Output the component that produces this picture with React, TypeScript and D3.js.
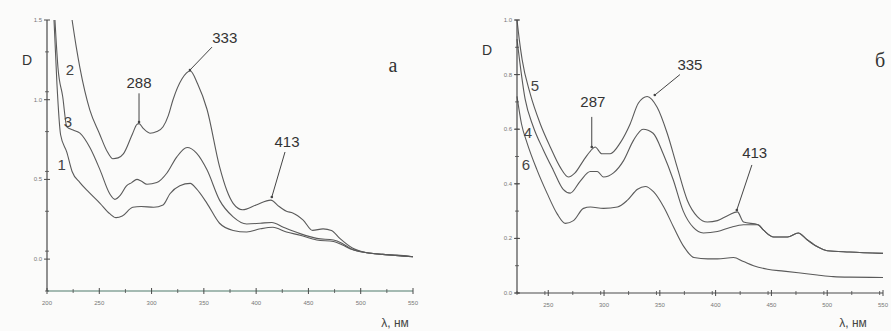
import React from 'react';
import * as d3 from 'd3';

type Pt = [number, number];

// panel a — wavelength (nm), optical density D
const curveA1: Pt[] = [[206.7,1.5],[209.5,1.1],[213,0.78],[219,0.67],[224,0.55],[231.5,0.48],[240,0.42],[250.7,0.35],[260,0.285],[266,0.26],[272,0.27],[282,0.325],[290,0.33],[302,0.325],[311,0.34],[317.6,0.41],[327,0.46],[337,0.475],[343,0.44],[353,0.35],[365,0.225],[378,0.18],[391,0.17],[404,0.19],[416,0.2],[429,0.17],[442,0.15],[458,0.12],[474,0.11],[482,0.09],[492,0.06],[506,0.04],[521,0.03],[550,0.015]];
const curveA2: Pt[] = [[224,1.5],[228,1.33],[231.5,1.2],[241,0.935],[250,0.79],[258,0.67],[263,0.63],[268,0.635],[273,0.66],[282,0.79],[286,0.845],[288,0.85],[292,0.82],[298.5,0.79],[305,0.8],[311,0.83],[316,0.9],[320.5,1.0],[329,1.13],[337,1.18],[344,1.1],[353,0.94],[365,0.58],[372,0.43],[378,0.35],[387,0.31],[400,0.34],[414,0.37],[422,0.33],[429,0.3],[435,0.29],[445,0.245],[454,0.18],[464,0.19],[472,0.18],[480,0.13],[492,0.07],[506,0.04],[521,0.03],[535,0.025],[550,0.015]];
const curveA3: Pt[] = [[207.6,1.5],[210.5,1.2],[215,1.02],[219,0.83],[225,0.81],[231.5,0.79],[241,0.7],[250.7,0.56],[260,0.41],[265,0.375],[270,0.4],[276,0.46],[281,0.48],[286,0.5],[290,0.49],[295.6,0.47],[305,0.48],[314.7,0.54],[324,0.64],[334,0.7],[343,0.665],[353,0.56],[365,0.37],[378,0.265],[391,0.22],[404,0.225],[415,0.23],[426,0.2],[442,0.16],[458,0.13],[474,0.12],[482,0.1],[492,0.06],[506,0.04],[521,0.03],[550,0.015]];

// panel б
const curveB4: Pt[] = [[222,0.93],[229.3,0.71],[236.5,0.61],[245.5,0.525],[254.5,0.45],[263.4,0.38],[269.7,0.366],[278.7,0.41],[287.7,0.445],[294,0.445],[299.5,0.425],[308.5,0.44],[317.5,0.485],[326.5,0.56],[335,0.6],[344,0.585],[353,0.51],[362,0.415],[371,0.3],[380,0.24],[389,0.22],[401.6,0.225],[413,0.24],[425,0.25],[438,0.25],[443,0.23],[452,0.205],[464.5,0.205],[474,0.22],[482,0.195],[491,0.17],[500,0.155],[520,0.15],[550,0.145]];
const curveB5: Pt[] = [[222,1.0],[224,0.93],[226.6,0.855],[233.8,0.73],[242.8,0.62],[251.8,0.535],[260.8,0.46],[268,0.425],[274,0.44],[281.5,0.485],[287.8,0.52],[292,0.535],[298,0.51],[305.5,0.51],[314.5,0.55],[323.5,0.62],[330.7,0.695],[338.7,0.72],[347.6,0.68],[356.6,0.585],[365.6,0.46],[374.6,0.34],[383.6,0.28],[392.6,0.26],[401.6,0.265],[411.5,0.285],[419.5,0.297],[425,0.26],[438,0.25],[443,0.23],[452,0.205],[464.5,0.205],[474,0.22],[482,0.195],[491,0.17],[500,0.155],[520,0.15],[550,0.145]];
const curveB6: Pt[] = [[222,0.72],[226,0.62],[231,0.55],[240,0.45],[249,0.365],[258,0.29],[265.4,0.255],[272.6,0.265],[281.6,0.31],[287.8,0.315],[299.6,0.31],[312,0.315],[321,0.34],[330,0.38],[337,0.39],[344.5,0.37],[353.5,0.315],[362.5,0.24],[371.5,0.17],[380.5,0.13],[393,0.125],[401.6,0.125],[416,0.13],[425,0.115],[434,0.1],[446.5,0.087],[461,0.08],[476,0.073],[491,0.066],[505.5,0.06],[520,0.058],[550,0.057]];

const xTicksA = [200, 250, 300, 350, 400, 450, 500, 550];
const yTicksA = [0, 0.5, 1.0, 1.5];
const xTicksB = [250, 300, 350, 400, 450, 500, 550];
const yTicksB = [0, 0.2, 0.4, 0.6, 0.8, 1.0];

// curve number labels: [text, λ, D]
const numLabelsA: [string, number, number][] = [['2', 222, 1.19], ['3', 220, 0.86], ['1', 214, 0.59]];
const numLabelsB: [string, number, number][] = [['5', 238, 0.76], ['4', 231.7, 0.586], ['6', 230, 0.47]];

// peak annotations: [text, textλ, textD, fromλ, fromD, toλ, toD]
type Ann = [string, number, number, number, number, number, number];
const peaksA: Ann[] = [
  ['288', 288, 1.105, 288, 1.04, 288, 0.86],
  ['333', 370, 1.387, 357.8, 1.33, 336.7, 1.186],
  ['413', 429.5, 0.734, 427.6, 0.672, 415, 0.39],
];
const peaksB: Ann[] = [
  ['287', 290, 0.7, 289, 0.645, 289, 0.535],
  ['335', 377, 0.835, 368, 0.8, 345.5, 0.725],
  ['413', 435, 0.513, 432.5, 0.469, 419, 0.304],
];

const ink = '#4a4a4a';

interface PanelProps {
  curves: Pt[][];
  xDomain: [number, number];
  xRange: [number, number];
  yDomain: [number, number];
  yRange: [number, number];
  xTicks: number[];
  yTicks: number[];
  yMinor: number;
  xMinor: number;
  xAxisColor: string;
  numLabels: [string, number, number][];
  peaks: Ann[];
  letter: string;
  letterPos: [number, number];
  dPos: [number, number];
  unitPos: [number, number];
}

const Panel: React.FC<PanelProps> = (p) => {
  const x = d3.scaleLinear().domain(p.xDomain).range(p.xRange);
  const y = d3.scaleLinear().domain(p.yDomain).range(p.yRange);
  const line = d3.line<Pt>().x(d => x(d[0])).y(d => y(d[1])).curve(d3.curveMonotoneX);
  const x0 = p.xRange[0];
  const yb = p.yRange[0];
  const minorX = d3.range(p.xDomain[0], p.xDomain[1] + 0.1, p.xMinor).filter(v => !p.xTicks.includes(v));
  const minorY = d3.range(p.yDomain[0], p.yDomain[1] + 0.001, p.yMinor);

  return (
    <g>
      {p.curves.map((c, i) => (
        <path key={i} d={line(c)!} fill="none" stroke="#5a5a5a" strokeWidth={1.1} />
      ))}
      <line x1={x0} x2={x0} y1={p.yRange[1]} y2={yb} stroke={ink} strokeWidth={1.2} />
      <line x1={x0} x2={p.xRange[1]} y1={yb} y2={yb} stroke={p.xAxisColor} strokeWidth={1.2} />
      {minorY.map(v => (
        <line key={'my' + v} x1={x0 - 2} x2={x0 + 2} y1={y(v)} y2={y(v)} stroke={ink} strokeWidth={0.8} />
      ))}
      {p.yTicks.map(v => (
        <g key={'y' + v}>
          <line x1={x0 - 3} x2={x0 + 3} y1={y(v)} y2={y(v)} stroke={ink} />
          <text x={x0 - 5} y={y(v) + 2} fontSize={6} fill="#777" textAnchor="end" fontFamily="Arial">
            {v.toFixed(1)}
          </text>
        </g>
      ))}
      {minorX.map(v => (
        <line key={'mx' + v} x1={x(v)} x2={x(v)} y1={yb - 2} y2={yb + 2} stroke={ink} strokeWidth={0.8} />
      ))}
      {p.xTicks.map(v => (
        <g key={'x' + v}>
          <line x1={x(v)} x2={x(v)} y1={yb - 3} y2={yb + 3} stroke={ink} />
          <text x={x(v)} y={yb + 14} fontSize={6} fill="#777" textAnchor="middle" fontFamily="Arial">
            {v}
          </text>
        </g>
      ))}
      {p.numLabels.map(([t, lx, ly]) => (
        <text key={'n' + t} x={x(lx)} y={y(ly)} dy="0.35em" fontSize={15} fill="#444" textAnchor="middle" fontFamily="Arial">
          {t}
        </text>
      ))}
      {p.peaks.map(([t, tx, ty, fx, fy, lx, ly]) => (
        <g key={'p' + t}>
          <text x={x(tx)} y={y(ty)} dy="0.35em" fontSize={15} fill="#333" textAnchor="middle" fontFamily="Arial">
            {t}
          </text>
          <line x1={x(fx)} y1={y(fy)} x2={x(lx)} y2={y(ly)} stroke="#444" strokeWidth={1} />
          <circle cx={x(lx)} cy={y(ly)} r={1.3} fill="#444" />
        </g>
      ))}
      <text x={p.dPos[0]} y={p.dPos[1]} dy="0.35em" fontSize={14} fill="#333" textAnchor="middle" fontFamily="Arial">
        D
      </text>
      <text x={p.letterPos[0]} y={p.letterPos[1]} dy="0.35em" fontSize={20} fill="#333" textAnchor="middle" fontFamily="Liberation Serif">
        {p.letter}
      </text>
      <text x={p.unitPos[0]} y={p.unitPos[1]} dy="0.35em" fontSize={12} fill="#444" textAnchor="middle" fontFamily="Arial">
        λ, нм
      </text>
    </g>
  );
};

export default function App() {
  return (
    <div style={{ position: 'fixed', left: 0, top: 0 }}>
      <svg width={891} height={331} style={{ display: 'block', background: '#fbfbfa' }}>
        <Panel
          curves={[curveA1, curveA2, curveA3]}
          xDomain={[200, 550]}
          xRange={[47, 413]}
          yDomain={[-0.2, 1.5]}
          yRange={[291, 20]}
          xTicks={xTicksA}
          yTicks={yTicksA}
          yMinor={0.25}
          xMinor={25}
          xAxisColor="#4f7a6a"
          numLabels={numLabelsA}
          peaks={peaksA}
          letter="а"
          letterPos={[393, 65]}
          dPos={[27, 60]}
          unitPos={[395, 323]}
        />
        <Panel
          curves={[curveB4, curveB5, curveB6]}
          xDomain={[222, 550]}
          xRange={[517, 883]}
          yDomain={[0, 1.0]}
          yRange={[293, 20]}
          xTicks={xTicksB}
          yTicks={yTicksB}
          yMinor={0.1}
          xMinor={25}
          xAxisColor={ink}
          numLabels={numLabelsB}
          peaks={peaksB}
          letter="б"
          letterPos={[880, 60]}
          dPos={[487, 50]}
          unitPos={[853, 323]}
        />
      </svg>
    </div>
  );
}
